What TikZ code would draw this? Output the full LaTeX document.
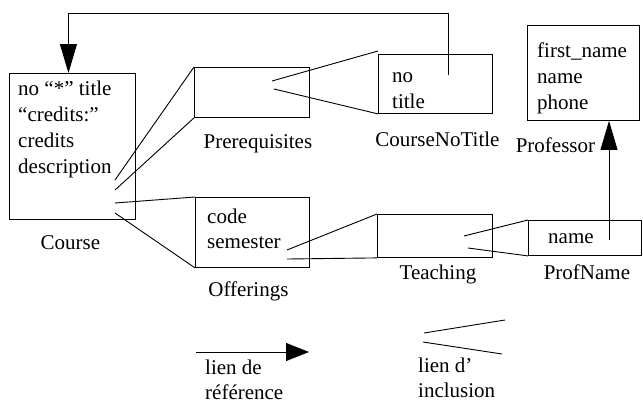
\documentclass[tikz,border=0pt]{standalone}
\usepackage{fontspec}
\setmainfont{Liberation Serif}
\usepackage{tikz}
\usetikzlibrary{positioning,arrows.meta}

\begin{document}
\begin{tikzpicture}[
				x=1pt, y=-1pt,
				box/.style={rectangle, draw, line width=0.9pt, inner sep=0pt, anchor=north west},
				field/.style={inner sep=0pt, anchor=base west, font=\fontsize{21}{26}\selectfont},
				boxlabel/.style={inner sep=0pt, text height=15pt, text depth=5pt, font=\fontsize{21}{26}\selectfont},
				reflink/.style={line width=0.9pt, -{Triangle[length=29pt, width=17pt]}},
				inclink/.style={line width=0.9pt},
				node distance = 14pt,
				]
				\useasboundingbox (0,0) rectangle (643,405);

				%Nodes
				\node[box, minimum width=126pt, minimum height=146pt](course) at (9,73){};
				\node[box, minimum width=115pt, minimum height=50pt](prereq) at (194,67){};
				\node[box, minimum width=114pt, minimum height=59pt](notitle) at (378,54){};
				\node[box, minimum width=112pt, minimum height=95pt](professor) at (527,25){};
				\node[box, minimum width=114pt, minimum height=70pt](offerings) at (195,197){};
				\node[box, minimum width=115pt, minimum height=43pt](teaching) at (377,214){};
				\node[box, minimum width=113pt, minimum height=35pt](profname) at (528,220){};

				%Fields
				\foreach \txt [count=\i] in {no “*” title, “credits:”, credits, description}
					\node[field](course-f\i) at (18, 69+26*\i){\txt};
				\foreach \txt [count=\i] in {code, semester}
					\node[field](offerings-f\i) at (207, 198+25*\i){\txt};
				\foreach \txt [count=\i] in {no, title}
					\node[field](notitle-f\i) at (392, 56+26*\i){\txt};
				\foreach \txt [count=\i] in {first\_name, name, phone}
					\node[field](professor-f\i) at (537, 31+26*\i){\txt};
				\node[field](profname-f1) at (548,243){name};

				%Labels
				\node[boxlabel](course-l)[below=14pt of course, xshift=-2pt]{Course};
				\node[boxlabel](prereq-l)[below=15pt of prereq, xshift=6pt]{Prerequisites};
				\node[boxlabel](notitle-l)[below=17pt of notitle, xshift=2pt]{CourseNoTitle};
				\node[boxlabel](professor-l)[below=16pt of professor, xshift=-28pt]{Professor};
				\node[boxlabel](offerings-l)[below=13pt of offerings, xshift=-4pt]{Offerings};
				\node[boxlabel](teaching-l)[below=6pt of teaching, xshift=3pt]{Teaching};
				\node[boxlabel](profname-l)[below=8pt of profname, xshift=2pt]{ProfName};

				%Inner ends of the links
				\coordinate (course-a) at (115,180);
				\coordinate (course-b) at (115,190);
				\coordinate (course-c) at (115,203);
				\coordinate (course-d) at (115,213);
				\coordinate (prereq-a) at (272,81);
				\coordinate (prereq-b) at (274,89);
				\coordinate (offerings-a) at (287,250);
				\coordinate (offerings-b) at (287,259);
				\coordinate (teaching-a) at (464,236);
				\coordinate (teaching-b) at (468,248);
				\coordinate (notitle-r) at (448,75);
				\coordinate (profname-r) at (609,240);

				%Lines
				\draw[inclink] (course-a) -- (prereq.north west);
				\draw[inclink] (course-b) -- (prereq.south west);
				\draw[inclink] (course-c) -- (offerings.north west);
				\draw[inclink] (course-d) -- (offerings.south west);
				\draw[inclink] (prereq-a) -- ([yshift=3pt]notitle.north west);
				\draw[inclink] (prereq-b) -- (notitle.south west);
				\draw[inclink] (offerings-a) -- (teaching.north west);
				\draw[inclink] (offerings-b) -- (teaching.south west);
				\draw[inclink] (teaching-a) -- (profname.north west);
				\draw[inclink] (teaching-b) -- (profname.south west);

				\draw[reflink] (notitle-r) -- ++(0,-62) -| ([xshift=-4pt]course.north);
				\draw[reflink] (profname-r) -- (profname-r |- professor.south);

				%Legend
				\coordinate (legref-a) at (196,352);
				\coordinate (legref-b) at (309,352);
				\draw[line width=0.9pt, -{Triangle[length=23pt, width=18pt]}] (legref-a) -- (legref-b);
				\foreach \txt [count=\i] in {lien de, référence}
					\node[field](legref-t\i) at (205, 349+25*\i){\txt};

				\coordinate (leginc-a) at (424,333);
				\coordinate (leginc-b) at (505,320);
				\coordinate (leginc-c) at (423,342);
				\coordinate (leginc-d) at (502,354);
				\draw[inclink] (leginc-a) -- (leginc-b);
				\draw[inclink] (leginc-c) -- (leginc-d);
				\foreach \txt [count=\i] in {lien d’, inclusion}
					\node[field](leginc-t\i) at (418, 347+25*\i){\txt};

			\end{tikzpicture}
\end{document}
